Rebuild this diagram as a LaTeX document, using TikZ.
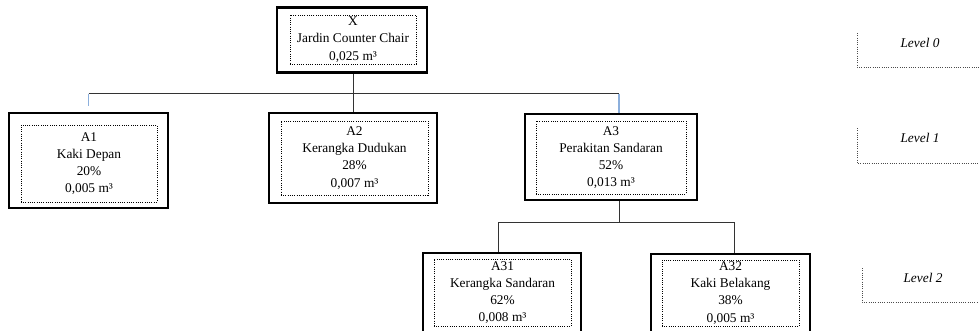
\documentclass[tikz,border=0pt]{standalone}
\usepackage{fontspec}
\setmainfont{Liberation Serif}
\usepackage{xcolor}
\usepackage{tikz}
\usetikzlibrary{positioning,calc}
\definecolor{linkblue}{RGB}{140,175,220}
\tikzset{
  outerbox/.style={draw, rectangle, line width=2pt, inner sep=0pt},
  innerbox/.style={draw, rectangle, densely dotted, line width=0.6pt, inner sep=0pt, align=center, font=\fontsize{9.5}{12.2}\selectfont},
  link/.style={draw=black!80, line width=0.7pt},
  bluelink/.style={draw=linkblue, line width=0.9pt},
  levelline/.style={draw=black!70, densely dotted, line width=0.6pt},
  leveltext/.style={font=\itshape\fontsize{9.5}{12}\selectfont}
}

\begin{document}
\begin{tikzpicture}[x=0.025cm, y=-0.025cm]
    \useasboundingbox (0,0) rectangle (979,330);
    \clip (0,0) rectangle (979,330);
    % level 0
    \node[outerbox, minimum width=3.75cm, minimum height=1.625cm] (x) at (352,40) {};
    \node[innerbox, minimum width=3.15cm, minimum height=1.225cm] (xin) at (353,39.5) {X\\Jardin Counter Chair\\0,025 m³};
    % level 1
    \node[outerbox, minimum width=3.975cm, minimum height=2.375cm] (a1) at (88.5,160.5) {};
    \node[innerbox, minimum width=3.4cm, minimum height=1.925cm] (a1in) at (89,163.5) {A1\\Kaki Depan\\20\%\\0,005 m³};
    \node[outerbox, minimum width=4.2cm, minimum height=2.25cm] (a2) at (353,158) {};
    \node[innerbox, minimum width=3.675cm, minimum height=1.85cm] (a2in) at (354.5,158) {A2\\Kerangka  Dudukan\\28\%\\0,007 m³};
    \node[outerbox, minimum width=4.3cm, minimum height=2.15cm] (a3) at (611,157) {};
    \node[innerbox, minimum width=3.75cm, minimum height=1.825cm] (a3in) at (611,157.5) {A3\\Perakitan Sandaran\\52\%\\0,013 m³};
    % level 2
    \node[outerbox, minimum width=3.95cm, minimum height=2cm] (a31) at (502,293) {};
    \node[innerbox, minimum width=3.425cm, minimum height=1.675cm] (a31in) at (502.5,292.5) {A31\\Kerangka  Sandaran\\62\%\\0,008 m³};
    \node[outerbox, minimum width=3.975cm, minimum height=1.975cm] (a32) at (730.5,293.5) {};
    \node[innerbox, minimum width=3.425cm, minimum height=1.65cm] (a32in) at (730.5,293) {A32\\Kaki Belakang\\38\%\\0,005 m³};
    % connectors
    \coordinate (b0) at ($(x.south)+(1,20)$);
    \coordinate (b3) at ($(a3.south)+(8,21)$);
    \coordinate (d31) at ($(a31.north)+(-4,0)$);
    \coordinate (d32) at ($(a32.north)+(3.5,0)$);
    \draw[link] (x.south -| b0) -- (a2.north -| b0);
    \draw[link] (a1.north |- b0) -- (b0 -| b3);
    \draw[bluelink, shorten >=4pt] (a1.north |- b0) -- (a1.north);
    \draw[bluelink] (b0 -| b3) -- (a3.north -| b3);
    \draw[link] (a3.south -| b3) -- (b3);
    \draw[link] (d31 |- b3) -- (d32 |- b3);
    \draw[link] (d31 |- b3) -- (d31);
    \draw[link] (d32 |- b3) -- (d32);
    % level labels
    \node[leveltext] (lv0) at (920,43) {Level 0};
    \node[leveltext] (lv1) at (920,138) {Level 1};
    \node[leveltext] (lv2) at (923,278) {Level 2};
    \draw[levelline] (857,33) |- (979,67);
    \draw[levelline] (857,128) |- (979,163);
    \draw[levelline] (862,268) |- (979,302);
\end{tikzpicture}
\end{document}
